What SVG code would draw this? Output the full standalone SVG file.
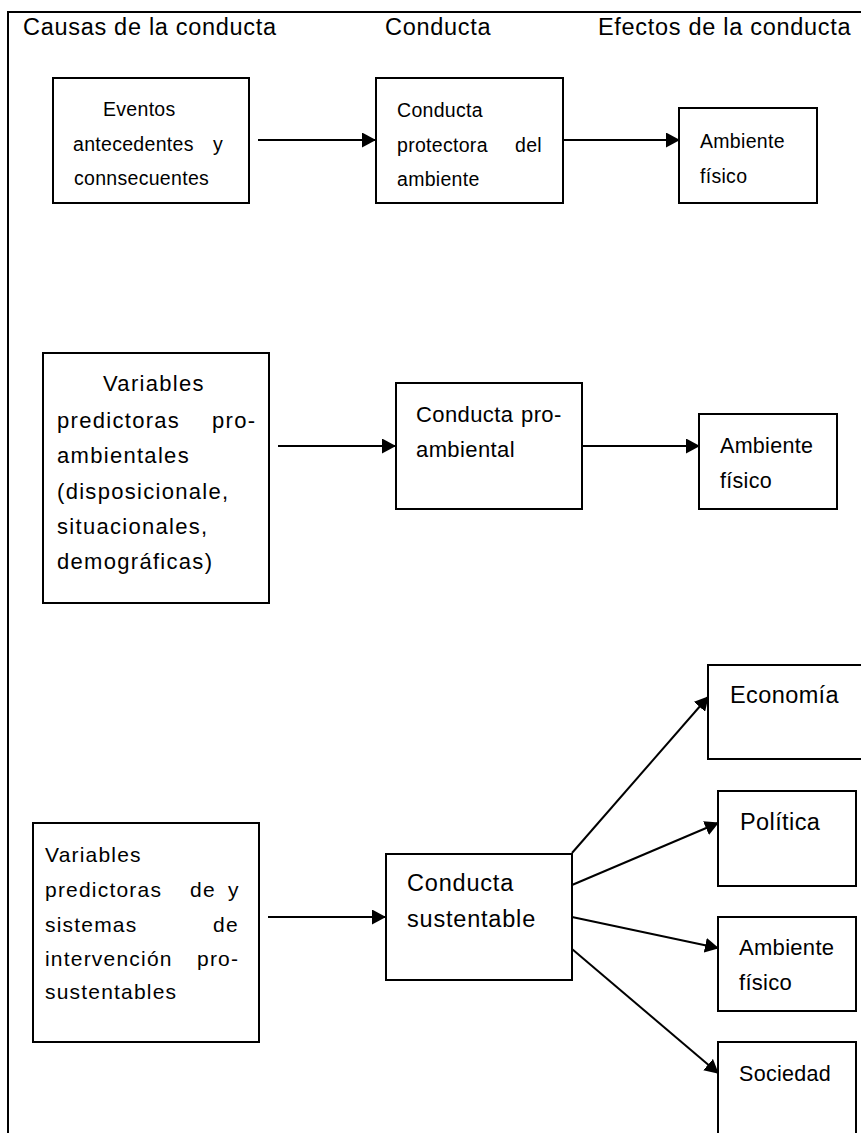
<svg xmlns="http://www.w3.org/2000/svg" width="861" height="1133" viewBox="0 0 861 1133">
<style>
.frame{fill:none;stroke:#000;stroke-width:2}
.box{fill:#fff;stroke:#000;stroke-width:2}
.con{fill:none;stroke:#000;stroke-width:2;marker-end:url(#ah)}
text{font-family:"Liberation Sans",Arial,sans-serif;fill:#000}
.h{font-size:23.5px;letter-spacing:0.7px}
.r1{font-size:19.5px;letter-spacing:0.3px}
.r2a{font-size:22px;letter-spacing:1.3px}
.r2b{font-size:22px;letter-spacing:0.4px}
.r2c{font-size:21.5px;letter-spacing:0.3px}
.r3a{font-size:21px;letter-spacing:1.2px}
.r3b{font-size:23.5px;letter-spacing:0.4px}
.r3e{font-size:23.5px;letter-spacing:0.8px}
.r3c{font-size:22px;letter-spacing:0.3px}
.r3d{font-size:21.5px;letter-spacing:0.3px}
</style>
<defs>
<marker id="ah" markerUnits="userSpaceOnUse" markerWidth="15" markerHeight="15" refX="13" refY="7.5" orient="auto">
<path d="M0,0 L14,7.5 L0,15 z" fill="#000"/>
</marker>
</defs>
<rect class="frame" x="8" y="12" width="880" height="1150"/>
<g id="headers">
<text class="h" x="23" y="35">Causas de la conducta</text>
<text class="h" x="385" y="35">Conducta</text>
<text class="h" x="598" y="35">Efectos de la conducta</text>
</g>
<g id="connectors">
<line class="con" x1="258" y1="140" x2="375" y2="140"/>
<line class="con" x1="563" y1="140" x2="679" y2="140"/>
<line class="con" x1="278" y1="446" x2="395" y2="446"/>
<line class="con" x1="582" y1="446" x2="699" y2="446"/>
<line class="con" x1="268" y1="917" x2="385" y2="917"/>
<line class="con" x1="572" y1="853" x2="708" y2="697"/>
<line class="con" x1="572" y1="885" x2="718" y2="823"/>
<line class="con" x1="572" y1="917" x2="718" y2="948"/>
<line class="con" x1="572" y1="949" x2="718" y2="1073"/>
</g>
<g id="eventos">
<rect class="box" x="53" y="78" width="196" height="125"/>
<text class="r1" x="103" y="116">Eventos</text>
<text class="r1" y="151"><tspan x="73">antecedentes</tspan><tspan x="213">y</tspan></text>
<text class="r1" x="74" y="185">connsecuentes</text>
</g>
<g id="conducta-protectora">
<rect class="box" x="376" y="78" width="187" height="125"/>
<text class="r1" x="397" y="117">Conducta</text>
<text class="r1" y="152"><tspan x="397">protectora</tspan><tspan x="515">del</tspan></text>
<text class="r1" x="397" y="186">ambiente</text>
</g>
<g id="ambiente1">
<rect class="box" x="679" y="108" width="138" height="95"/>
<text class="r1" x="700" y="148">Ambiente</text>
<text class="r1" x="700" y="183">físico</text>
</g>
<g id="variables-pro-ambientales">
<rect class="box" x="43" y="353" width="226" height="250"/>
<text class="r2a" x="103" y="391">Variables</text>
<text class="r2a" y="428"><tspan x="57">predictoras</tspan><tspan x="212">pro-</tspan></text>
<text class="r2a" x="57" y="463">ambientales</text>
<text class="r2a" x="57" y="499">(disposicionale,</text>
<text class="r2a" x="57" y="534">situacionales,</text>
<text class="r2a" x="57" y="569">demográficas)</text>
</g>
<g id="conducta-pro-ambiental">
<rect class="box" x="396" y="383" width="186" height="126"/>
<text class="r2b" y="422"><tspan x="416">Conducta</tspan><tspan x="521">pro-</tspan></text>
<text class="r2b" x="416" y="457">ambiental</text>
</g>
<g id="ambiente2">
<rect class="box" x="699" y="414" width="138" height="95"/>
<text class="r2c" x="720" y="453">Ambiente</text>
<text class="r2c" x="720" y="488">físico</text>
</g>
<g id="variables-pro-sustentables">
<rect class="box" x="33" y="823" width="226" height="219"/>
<text class="r3a" x="45" y="862">Variables</text>
<text class="r3a" y="897"><tspan x="45">predictoras</tspan><tspan x="190">de</tspan><tspan x="228">y</tspan></text>
<text class="r3a" y="932"><tspan x="45">sistemas</tspan><tspan x="213">de</tspan></text>
<text class="r3a" y="966"><tspan x="45">intervención</tspan><tspan x="197">pro-</tspan></text>
<text class="r3a" x="45" y="999">sustentables</text>
</g>
<g id="conducta-sustentable">
<rect class="box" x="386" y="854" width="186" height="126"/>
<text class="r3e" x="407" y="891">Conducta</text>
<text class="r3e" x="407" y="927">sustentable</text>
</g>
<g id="economia">
<rect class="box" x="708" y="665" width="170" height="94"/>
<text class="r3b" x="730" y="703">Economía</text>
</g>
<g id="politica">
<rect class="box" x="718" y="791" width="138" height="95"/>
<text class="r3b" x="740" y="830">Política</text>
</g>
<g id="ambiente3">
<rect class="box" x="718" y="917" width="138" height="94"/>
<text class="r3c" x="739" y="955">Ambiente</text>
<text class="r3c" x="739" y="990">físico</text>
</g>
<g id="sociedad">
<rect class="box" x="718" y="1042" width="138" height="110"/>
<text class="r3d" x="739" y="1081">Sociedad</text>
</g>
</svg>
